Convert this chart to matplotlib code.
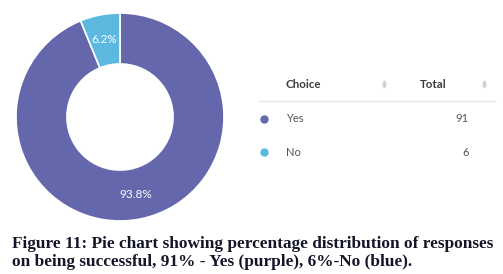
import matplotlib
matplotlib.use('Agg')
import matplotlib.pyplot as plt

choices = ['Yes', 'No']
totals = [91, 6]
colors = ['#6467ab', '#5cb8de']
caption = ['Figure 11: Pie chart showing percentage distribution of responses',
           'on being successful, 91% - Yes (purple), 6%-No (blue).']

W, H = 503, 274


def px(x, y):
    # pixel coords (top-left origin) -> figure fraction
    return x / W, 1 - y / H


fig = plt.figure(figsize=(W / 100, H / 100), dpi=100)
fig.patch.set_facecolor('white')

# donut
cx, cy, r = 120, 117, 104
ax = fig.add_axes([(cx - r) / W, (H - cy - r) / H, 2 * r / W, 2 * r / H])
wedges, texts, autotexts = ax.pie(
    totals, colors=colors, startangle=90, counterclock=False,
    radius=1, autopct='%1.1f%%', pctdistance=0.76,
    wedgeprops=dict(width=0.49, edgecolor='white', linewidth=1.2),
    textprops=dict(color='white', fontsize=8.5, family='Lato'))
ax.set_xlim(-1, 1)
ax.set_ylim(-1, 1)
ax.set_aspect('equal')
ax.axis('off')

# table legend
hdr_color = '#3d3d3d'
row_color = '#555555'
y_hdr = 84
fig.text(*px(286, y_hdr), 'Choice', fontsize=8.3, fontweight='bold', family='Lato',
         color=hdr_color, va='center', ha='left')
fig.text(*px(447, y_hdr), 'Total', fontsize=8.3, fontweight='bold', family='Lato',
         color=hdr_color, va='center', ha='right')
for sx in (384, 484):
    fig.lines.append(plt.Line2D([sx / W], [1 - (y_hdr - 2) / H], marker='^', markersize=2.2,
                                color='#d0d0d0', transform=fig.transFigure, linestyle='none'))
    fig.lines.append(plt.Line2D([sx / W], [1 - (y_hdr + 2) / H], marker='v', markersize=2.2,
                                color='#d0d0d0', transform=fig.transFigure, linestyle='none'))
fig.lines.append(plt.Line2D([259 / W, 495 / W], [1 - 101 / H] * 2, color='#e6e6e6',
                            linewidth=1, transform=fig.transFigure))

row_y = [119, 152]
for name, val, col, y in zip(choices, totals, colors, row_y):
    fig.lines.append(plt.Line2D([264 / W], [1 - y / H], marker='o', markersize=5,
                                color=col, transform=fig.transFigure, linestyle='none'))
    fig.text(*px(286, y), name, fontsize=8, family='Lato', color=row_color,
             va='center', ha='left')
    fig.text(*px(469, y), str(val), fontsize=8, family='Lato', color=row_color,
             va='center', ha='right')

# caption
for i, line in enumerate(caption):
    fig.text(*px(12, 244 + i * 18), line, fontsize=12.4, fontweight='bold',
             family='Liberation Serif', color='#15152a', va='center', ha='left')

fig.savefig('out.png', dpi=100, facecolor='white')
